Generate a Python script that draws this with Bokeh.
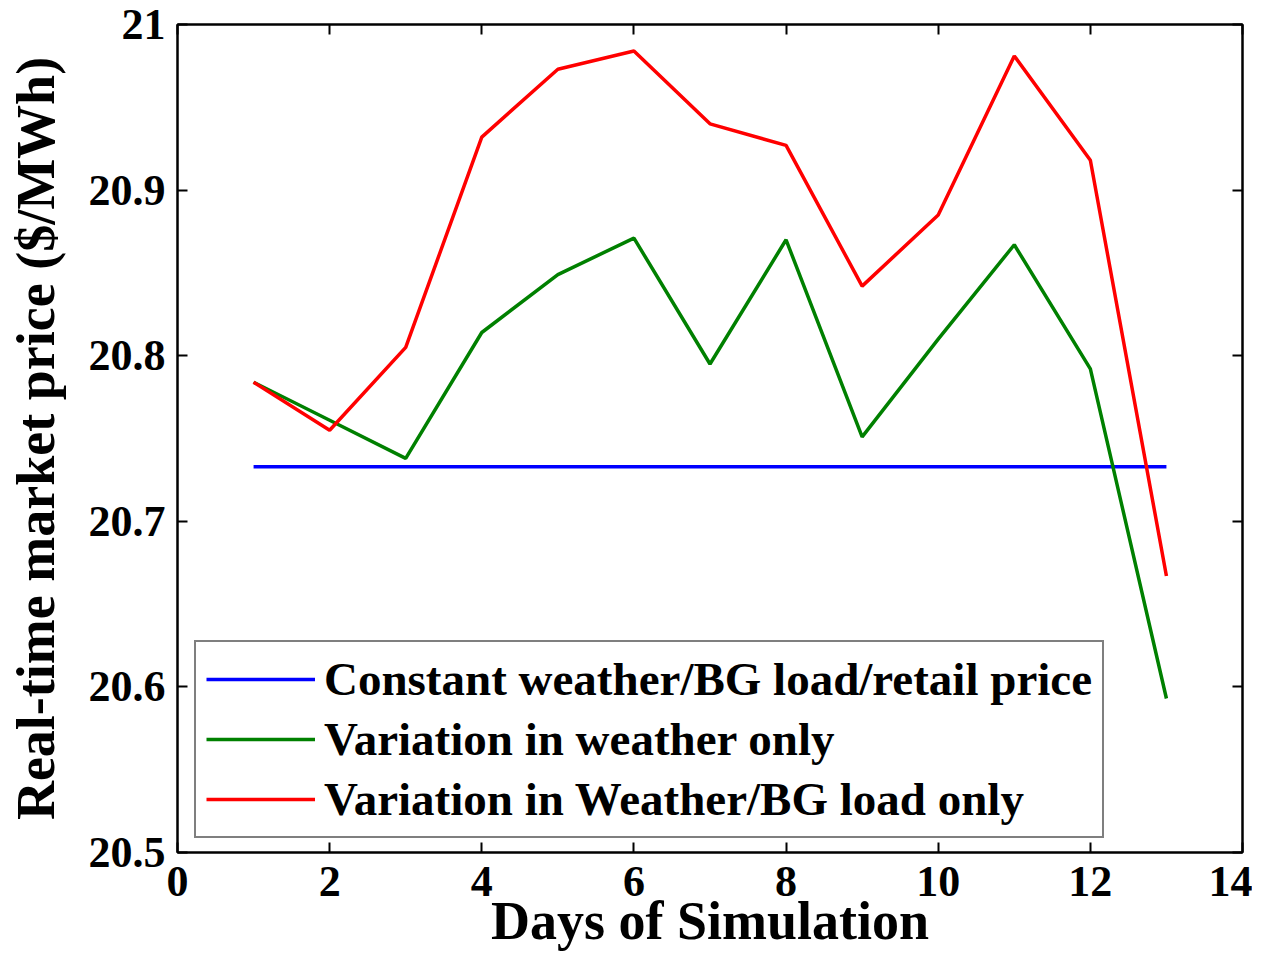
from bokeh.plotting import figure
from bokeh.models import LinearAxis, Range1d, FixedTicker, Legend, LegendItem
from bokeh.embed import file_html
from bokeh.resources import INLINE

days = [1, 2, 3, 4, 5, 6, 7, 8, 9, 10, 11, 12, 13]
constant = [20.733] * 13
weather_only = [20.784, 20.761, 20.738, 20.814, 20.849, 20.871, 20.795, 20.870,
                20.751, 20.810, 20.867, 20.792, 20.593]
weather_bg = [20.784, 20.755, 20.805, 20.932, 20.973, 20.984, 20.940, 20.927,
              20.842, 20.885, 20.981, 20.918, 20.667]
labels = ["Constant weather/BG load/retail price",
          "Variation in weather only",
          "Variation in Weather/BG load only"]
x_ticks = [0, 2, 4, 6, 8, 10, 12, 14]
y_ticks = [20.5, 20.6, 20.7, 20.8, 20.9, 21.0]

FONT = "Liberation Serif"

p = figure(width=1252, height=953, output_backend="svg", toolbar_location=None,
           x_range=Range1d(0, 14), y_range=Range1d(20.5, 21.0),
           min_border_left=177, min_border_right=10, min_border_top=24,
           min_border_bottom=101)
p.grid.visible = False
p.outline_line_color = "black"
p.outline_line_width = 2

r1 = p.line(days, constant, line_color="#0000ff", line_width=3.5)
r2 = p.line(days, weather_only, line_color="#008000", line_width=3.5)
r3 = p.line(days, weather_bg, line_color="#ff0000", line_width=3.5)

def style(ax, labels_on=True):
    ax.axis_line_color = "black"
    ax.axis_line_width = 2
    ax.major_tick_in = 10
    ax.major_tick_out = 0
    ax.major_tick_line_width = 2
    ax.minor_tick_line_color = None
    ax.major_label_text_font = FONT
    ax.major_label_text_font_style = "bold"
    ax.major_label_text_font_size = "44px"
    ax.major_label_text_color = "black"
    ax.axis_label_text_font = FONT
    ax.axis_label_text_font_style = "bold"
    ax.axis_label_text_font_size = "54px"
    ax.axis_label_text_color = "black"
    if not labels_on:
        ax.major_label_text_font_size = "0px"
        ax.major_label_text_alpha = 0

p.xaxis.ticker = FixedTicker(ticks=x_ticks)
p.yaxis.ticker = FixedTicker(ticks=y_ticks)
p.yaxis.formatter.use_scientific = False
for ax in p.xaxis + p.yaxis:
    style(ax)
p.xaxis.axis_label = "Days of Simulation"
p.yaxis.axis_label = "Real-time market price ($/MWh)"
p.xaxis.major_label_standoff = 14
p.yaxis.major_label_standoff = 12
p.xaxis.axis_label_standoff = -8
p.yaxis.axis_label_standoff = 20

top = LinearAxis(ticker=FixedTicker(ticks=x_ticks))
style(top, labels_on=False)
p.add_layout(top, "above")
right = LinearAxis(ticker=FixedTicker(ticks=y_ticks))
style(right, labels_on=False)
p.add_layout(right, "right")

legend = Legend(items=[LegendItem(label=labels[0], renderers=[r1]),
                       LegendItem(label=labels[1], renderers=[r2]),
                       LegendItem(label=labels[2], renderers=[r3])],
                location=(17, 14))
legend.border_line_color = "black"
legend.border_line_width = 2
legend.background_fill_alpha = 1
legend.padding = 10
legend.spacing = 6
legend.glyph_width = 109
legend.glyph_height = 40
legend.label_height = 40
legend.label_standoff = 9
legend.margin = 0
legend.label_text_font = FONT
legend.label_text_font_style = "bold"
legend.label_text_font_size = "47px"
legend.label_text_color = "black"
p.add_layout(legend, "center")

open("out.html", "w").write(file_html(p, INLINE))
